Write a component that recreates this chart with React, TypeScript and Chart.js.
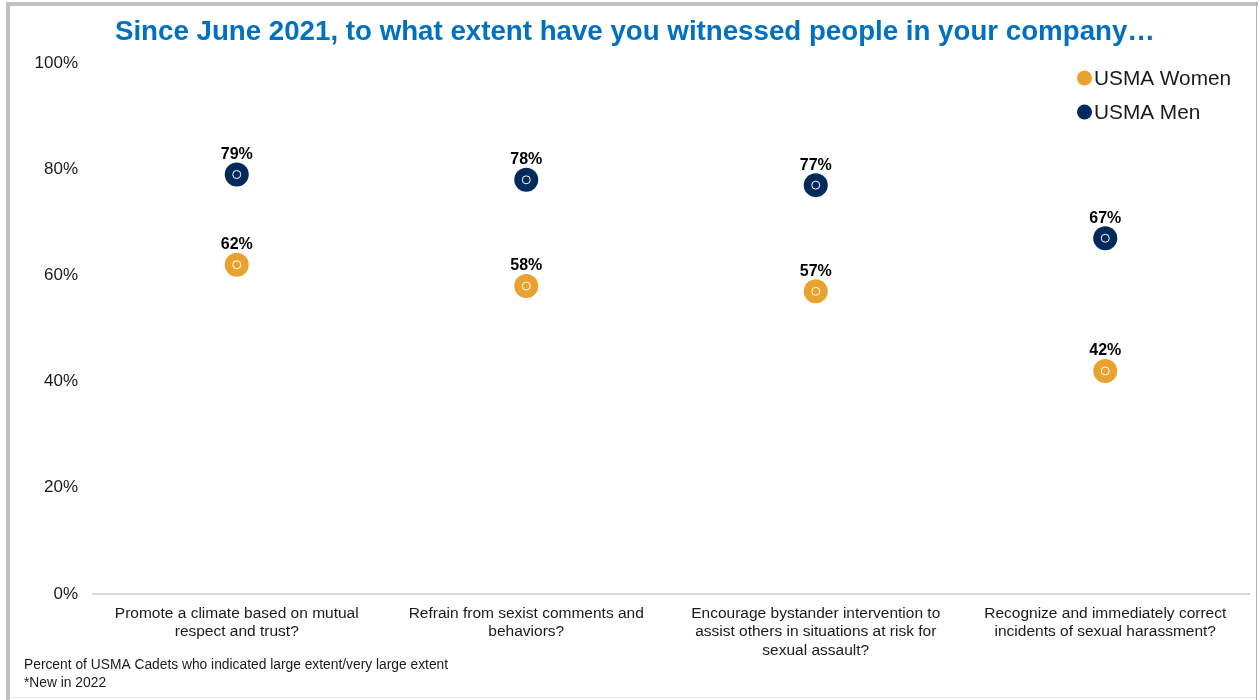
import React, { useEffect, useRef } from "react";
import { Chart, registerables } from "chart.js";

Chart.register(...registerables);

const TITLE = "Since June 2021, to what extent have you witnessed people in your company…";
const CATEGORIES: string[][] = [
  ["Promote a climate based on mutual", "respect and trust?"],
  ["Refrain from sexist comments and", "behaviors?"],
  ["Encourage bystander intervention to", "assist others in situations at risk for", "sexual assault?"],
  ["Recognize and immediately correct", "incidents of sexual harassment?"],
];
const WOMEN = [62, 58, 57, 42];
const MEN = [79, 78, 77, 67];
const SERIES_NAMES = ["USMA Women", "USMA Men"];
const SERIES_COLORS = ["#E9A22F", "#002A5C"];
const FOOTNOTES = [
  "Percent of USMA Cadets who indicated large extent/very large extent",
  "*New in 2022",
];
const FONT = "'Liberation Sans', Arial, sans-serif";

const decorPlugin = {
  id: "decor",
  beforeDraw(chart: any) {
    const ctx = chart.ctx;
    ctx.save();
    ctx.fillStyle = "#ffffff";
    ctx.fillRect(0, 0, chart.width, chart.height);
    // frame
    ctx.fillStyle = "#c0c0c0";
    ctx.fillRect(6, 2, 1252, 4);
    ctx.fillRect(6, 2, 4, 698);
    ctx.fillStyle = "#b0b0b0";
    ctx.fillRect(1256, 2, 1, 698);
    ctx.fillStyle = "#e6e6e6";
    ctx.fillRect(10, 697, 1246, 1);
    // title
    ctx.fillStyle = "#0070C0";
    ctx.font = `bold 27.7px ${FONT}`;
    ctx.textAlign = "center";
    ctx.textBaseline = "middle";
    ctx.fillText(TITLE, 635, 32);
    // legend
    ctx.font = `20.8px ${FONT}`;
    ctx.textAlign = "left";
    SERIES_NAMES.forEach((name, i) => {
      const y = 78 + i * 34;
      ctx.fillStyle = SERIES_COLORS[i];
      ctx.beginPath();
      ctx.arc(1084.5, y, 7.5, 0, Math.PI * 2);
      ctx.fill();
      ctx.fillStyle = "#1a1a1a";
      ctx.fillText(name, 1094, y + 1);
    });
    // footnotes
    ctx.font = `13.8px ${FONT}`;
    ctx.fillStyle = "#1a1a1a";
    FOOTNOTES.forEach((t, i) => {
      ctx.fillText(t, 24, 665 + i * 18);
    });
    ctx.restore();
  },
  afterDatasetsDraw(chart: any) {
    const ctx = chart.ctx;
    ctx.save();
    chart.data.datasets.forEach((ds: any, di: number) => {
      const meta = chart.getDatasetMeta(di);
      meta.data.forEach((pt: any, i: number) => {
        ctx.strokeStyle = "#ffffff";
        ctx.lineWidth = 1;
        ctx.beginPath();
        ctx.arc(pt.x, pt.y, 4, 0, Math.PI * 2);
        ctx.stroke();
        ctx.fillStyle = "#000000";
        ctx.font = `bold 16px ${FONT}`;
        ctx.textAlign = "center";
        ctx.textBaseline = "middle";
        ctx.fillText(`${ds.data[i]}%`, pt.x, pt.y - 20);
      });
    });
    ctx.restore();
  },
};

export default function App() {
  const ref = useRef<HTMLCanvasElement>(null);
  useEffect(() => {
    if (!ref.current) return;
    const chart = new Chart(ref.current, {
      type: "line",
      data: {
        labels: CATEGORIES,
        datasets: [
          {
            label: SERIES_NAMES[0],
            data: WOMEN,
            showLine: false,
            pointRadius: 12,
            pointHoverRadius: 12,
            pointBackgroundColor: SERIES_COLORS[0],
            pointBorderWidth: 0,
            borderColor: SERIES_COLORS[0],
            backgroundColor: SERIES_COLORS[0],
          },
          {
            label: SERIES_NAMES[1],
            data: MEN,
            showLine: false,
            pointRadius: 12,
            pointHoverRadius: 12,
            pointBackgroundColor: SERIES_COLORS[1],
            pointBorderWidth: 0,
            borderColor: SERIES_COLORS[1],
            backgroundColor: SERIES_COLORS[1],
          },
        ],
      },
      options: {
        animation: false,
        responsive: true,
        maintainAspectRatio: false,
        layout: { autoPadding: false, padding: { top: 63, right: 9, bottom: 36, left: 0 } },
        plugins: {
          legend: { display: false },
          title: { display: false },
          tooltip: { enabled: false },
        },
        scales: {
          x: {
            offset: true,
            grid: { display: false },
            border: { display: false },
            ticks: {
              color: "#1a1a1a",
              font: { family: FONT, size: 15.5, lineHeight: 1.2 },
              padding: 2,
              maxRotation: 0,
              autoSkip: false,
            },
            afterFit(scale: any) {
              scale.height = 70;
            },
          },
          y: {
            min: 0,
            max: 100,
            border: { display: false },
            grid: {
              drawTicks: false,
              lineWidth: 2,
              color: (c: any) => (c.tick && c.tick.value === 0 ? "#d9d9d9" : "rgba(0,0,0,0)"),
            },
            ticks: {
              stepSize: 20,
              padding: 14,
              color: "#1a1a1a",
              font: { family: FONT, size: 17 },
              callback: (v: any) => `${v}%`,
            },
            afterFit(scale: any) {
              scale.width = 92;
            },
          },
        },
      },
      plugins: [decorPlugin],
    });
    return () => chart.destroy();
  }, []);
  return (
    <div style={{ position: "fixed", left: 0, top: 0, width: 1259, height: 700 }}>
      <canvas ref={ref} />
    </div>
  );
}
